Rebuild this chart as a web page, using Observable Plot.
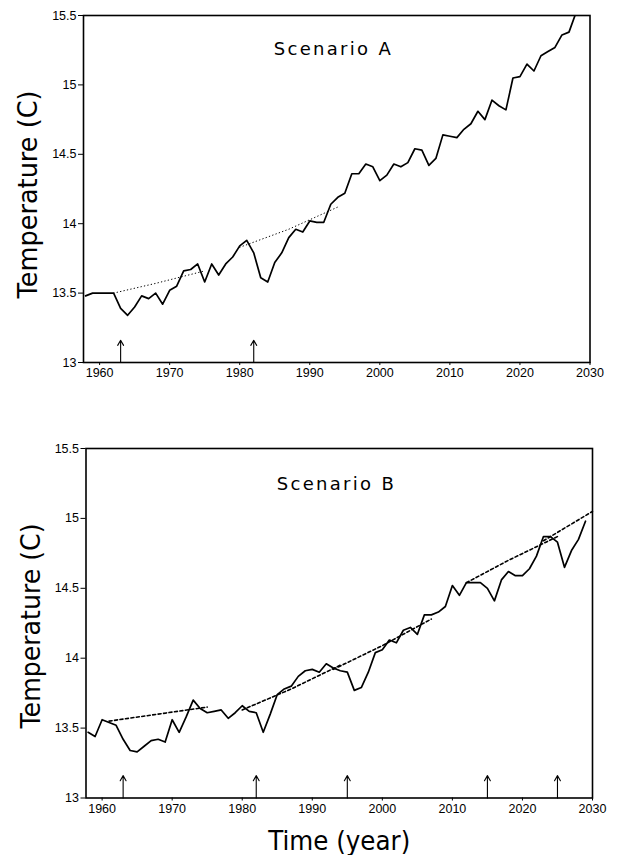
<!DOCTYPE html>
<html>
<head>
<meta charset="utf-8">
<script src="https://cdn.jsdelivr.net/npm/d3@7"></script>
<script src="https://cdn.jsdelivr.net/npm/@observablehq/plot@0.6"></script>
<style>
  html, body { margin: 0; padding: 0; background: #fff; }
  #wrap { position: relative; width: 621px; height: 855px; overflow: hidden; background: #fff; }
  #panelA { position: absolute; left: 0; top: 0; }
  #panelB { position: absolute; left: 0; top: 430px; }
</style>
</head>
<body>
<div id="wrap"><div id="panelA"></div><div id="panelB"></div></div>
<script>
// ---------- DATA ----------
const xTicks = [1960, 1970, 1980, 1990, 2000, 2010, 2020, 2030];
const yTicks = [13, 13.5, 14, 14.5, 15, 15.5];
const yTickLabels = ["13", "13.5", "14", "14.5", "15", "15.5"];

const titleA = "Scenario A";
const titleB = "Scenario B";
const yLabel = "Temperature (C)";
const xLabel = "Time (year)";

const yearsA = [1958,1959,1960,1961,1962,1963,1964,1965,1966,1967,1968,1969,
  1970,1971,1972,1973,1974,1975,1976,1977,1978,1979,
  1980,1981,1982,1983,1984,1985,1986,1987,1988,1989,
  1990,1991,1992,1993,1994,1995,1996,1997,1998,1999,
  2000,2001,2002,2003,2004,2005,2006,2007,2008,2009,
  2010,2011,2012,2013,2014,2015,2016,2017,2018,2019,
  2020,2021,2022,2023,2024,2025,2026,2027,2028];
const tempA = [13.48,13.50,13.50,13.50,13.50,13.39,13.34,13.40,13.48,13.46,13.50,13.42,
  13.52,13.55,13.66,13.67,13.71,13.58,13.71,13.63,13.71,13.76,
  13.84,13.88,13.79,13.61,13.58,13.72,13.79,13.90,13.96,13.94,
  14.02,14.01,14.01,14.14,14.19,14.22,14.36,14.36,14.43,14.41,
  14.31,14.35,14.43,14.41,14.44,14.54,14.53,14.42,14.47,14.64,
  14.63,14.62,14.68,14.72,14.81,14.75,14.89,14.85,14.82,15.05,
  15.06,15.15,15.10,15.21,15.24,15.27,15.36,15.38,15.52];

const yearsB = [1958,1959,1960,1961,1962,1963,1964,1965,1966,1967,1968,1969,
  1970,1971,1972,1973,1974,1975,1976,1977,1978,1979,
  1980,1981,1982,1983,1984,1985,1986,1987,1988,1989,
  1990,1991,1992,1993,1994,1995,1996,1997,1998,1999,
  2000,2001,2002,2003,2004,2005,2006,2007,2008,2009,
  2010,2011,2012,2013,2014,2015,2016,2017,2018,2019,
  2020,2021,2022,2023,2024,2025,2026,2027,2028,2029];
const tempB = [13.47,13.44,13.56,13.54,13.52,13.42,13.34,13.33,13.37,13.41,13.42,13.40,
  13.56,13.47,13.58,13.70,13.64,13.61,13.62,13.63,13.57,13.61,
  13.66,13.62,13.61,13.47,13.60,13.74,13.78,13.80,13.87,13.91,
  13.92,13.90,13.96,13.93,13.91,13.90,13.77,13.79,13.90,14.04,
  14.06,14.13,14.11,14.20,14.22,14.17,14.31,14.31,14.33,14.37,
  14.52,14.45,14.54,14.54,14.54,14.50,14.41,14.56,14.62,14.59,
  14.59,14.64,14.73,14.87,14.87,14.83,14.65,14.77,14.85,14.98];

// trend segments (dotted / dashed)
const trendAYear = [1962, 1968, 1975, 1980, 1987, 1994];
const trendATemp = [13.50, 13.57, 13.66, 13.83, 13.96, 14.12];
const trendASeg  = [1, 1, 1, 2, 2, 2];

const trendBYear = [1961, 1975, 1980, 1987, 1994, 1993, 2000, 2007, 2012, 2018, 2025, 2023, 2030];
const trendBTemp = [13.55, 13.65, 13.63, 13.78, 13.95, 13.92, 14.09, 14.28, 14.54, 14.70, 14.87, 14.84, 15.05];
const trendBSeg  = [1, 1, 2, 2, 2, 3, 3, 3, 4, 4, 4, 5, 5];

// volcanic-eruption arrows
const arrowsA = [1963, 1982];
const arrowsB = [1963, 1982, 1995, 2015, 2025];
const arrowBase = 13;
const arrowTip = 13.16;

// ---------- DRAW ----------
const tickFont = "'Liberation Sans', Arial, sans-serif";
const labelFont = "'DejaVu Sans', sans-serif";

function panel(opts) {
  const line = opts.years.map((y, i) => ({year: y, temp: opts.temps[i]}));
  const trend = opts.trendYear.map((y, i) => ({year: y, temp: opts.trendTemp[i], seg: opts.trendSeg[i]}));
  const marks = [
    Plot.axisX({ticks: xTicks, tickSize: 3, tickPadding: 3, tickFormat: d => String(d), label: null, fontSize: 12.5}),
    Plot.axisY({ticks: yTicks, tickSize: 5, tickPadding: 2, tickFormat: d => yTickLabels[yTicks.indexOf(d)], label: null, fontSize: 12.5}),
    Plot.line(trend, {x: "year", y: "temp", z: "seg", stroke: "#000",
      strokeWidth: opts.trendWidth, strokeDasharray: opts.trendDash, strokeLinecap: "round"}),
    Plot.line(line, {x: "year", y: "temp", stroke: "#000", strokeWidth: 1.7, clip: true}),
    Plot.arrow(opts.arrows, {x1: d => d, x2: d => d, y1: arrowBase, y2: arrowTip,
      stroke: "#000", strokeWidth: 1.1, headLength: 8, headAngle: 60}),
    Plot.frame({stroke: "#000", strokeWidth: 1.6}),
    Plot.text([opts.title], {frameAnchor: "top", dx: opts.titleDx, dy: opts.titleDy,
      fontSize: 18, fontFamily: labelFont, fill: "#000", lineAnchor: "middle"}),
    Plot.text([yLabel], {frameAnchor: "left", rotate: -90, textAnchor: "start", dx: -55, dy: opts.yLabelDy,
      fontSize: 27, fontFamily: labelFont, fill: "#000", lineAnchor: "middle"})
  ];
  if (opts.xLabel) {
    marks.push(Plot.text([opts.xLabel], {frameAnchor: "bottom", dy: 44,
      fontSize: 26, fontFamily: labelFont, fill: "#000", lineAnchor: "middle"}));
  }
  const svg = Plot.plot({
    width: 621,
    height: opts.height,
    marginLeft: opts.marginLeft,
    marginRight: opts.marginRight,
    marginTop: opts.marginTop,
    marginBottom: opts.marginBottom,
    style: {fontFamily: tickFont, fontSize: "12.5px", color: "#000", background: "#fff"},
    x: {domain: [1957.7, 2030]},
    y: {domain: [13, 15.5]},
    marks
  });
  // letter-spaced label text, as in the reference
  const lengths = opts.textLengths;
  d3.select(svg).selectAll('g[aria-label="text"] text').each(function() {
    const t = this.textContent;
    if (lengths[t]) {
      this.setAttribute("textLength", lengths[t][0]);
      this.setAttribute("lengthAdjust", lengths[t][1]);
    }
  });
  return svg;
}

document.getElementById("panelA").appendChild(panel({
  years: yearsA, temps: tempA,
  trendYear: trendAYear, trendTemp: trendATemp, trendSeg: trendASeg,
  trendWidth: 1, trendDash: "0.5,3",
  arrows: arrowsA, title: titleA,
  titleDx: -4.5, titleDy: 34.2, yLabelDy: 109.5,
  height: 400, marginLeft: 83, marginRight: 31.5, marginTop: 15, marginBottom: 38,
  textLengths: {"Scenario A": [117, "spacing"], "Temperature (C)": [208, "spacingAndGlyphs"]}
}));

document.getElementById("panelB").appendChild(panel({
  years: yearsB, temps: tempB,
  trendYear: trendBYear, trendTemp: trendBTemp, trendSeg: trendBSeg,
  trendWidth: 1.6, trendDash: "3,2.5",
  arrows: arrowsB, title: titleB, xLabel: xLabel,
  titleDx: -4, titleDy: 35.5, yLabelDy: 105.25,
  height: 425, marginLeft: 85.5, marginRight: 29, marginTop: 18, marginBottom: 57.5,
  textLengths: {"Scenario B": [117, "spacing"], "Temperature (C)": [205, "spacingAndGlyphs"],
    "Time (year)": [142, "spacingAndGlyphs"]}
}));
</script>
</body>
</html>
